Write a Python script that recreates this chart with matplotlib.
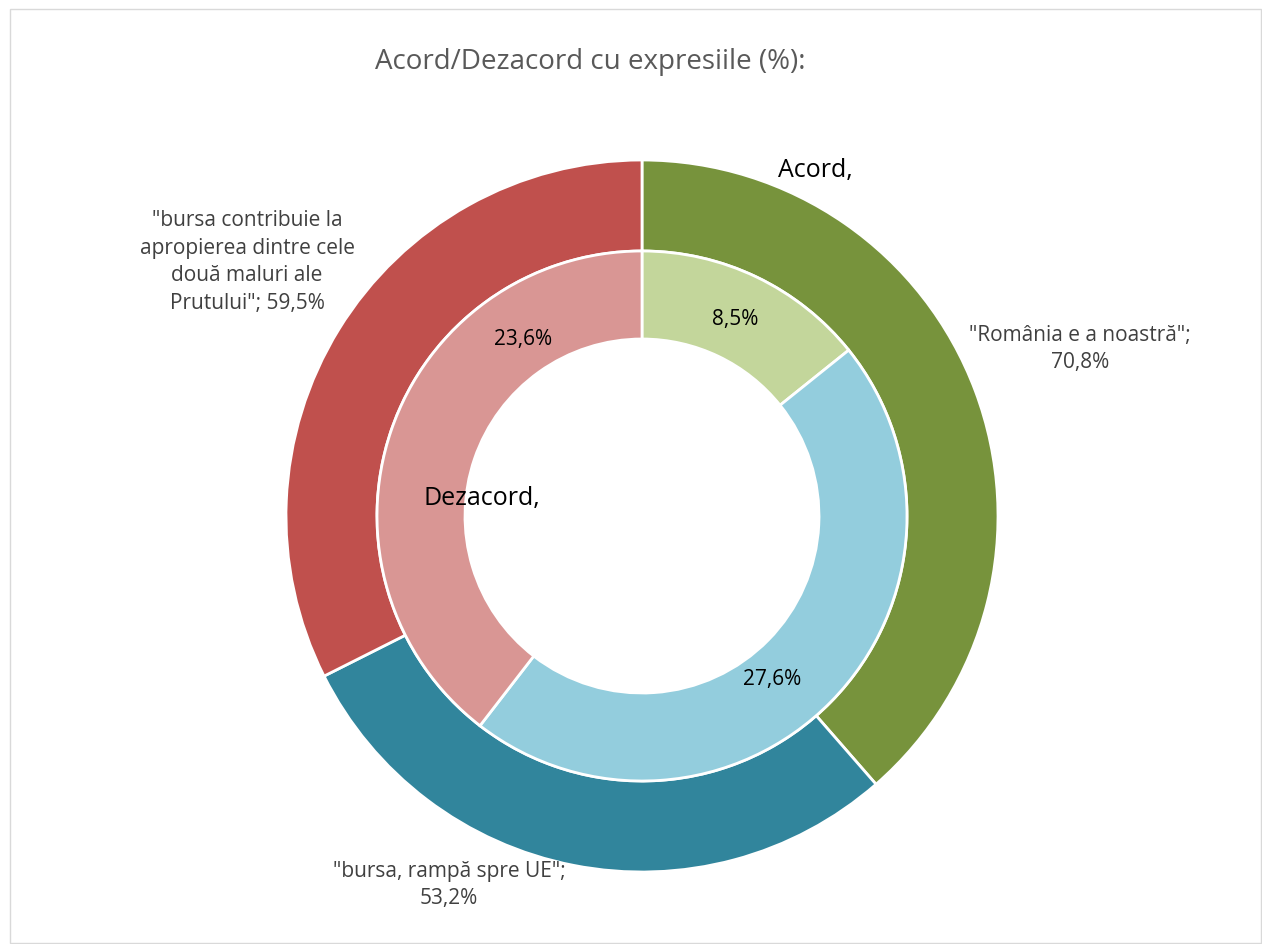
import matplotlib
matplotlib.use('Agg')
import matplotlib.pyplot as plt
from matplotlib.patches import Rectangle

plt.rcParams['font.family'] = ['Open Sans', 'DejaVu Sans']

# data
expresii = ['"România e a noastră"', '"bursa, rampă spre UE"',
            '"bursa contribuie la\napropierea dintre cele\ndouă maluri ale\nPrutului"']
acord = [70.8, 53.2, 59.5]
dezacord = [8.5, 27.6, 23.6]

culori_acord = ['#77933C', '#31859C', '#C0504D']
culori_dezacord = ['#C3D69B', '#93CDDD', '#D99694']

W, H = 1262, 945
fig = plt.figure(figsize=(W / 100, H / 100), dpi=100)
ax = fig.add_axes([0, 0, 1, 1])

# y axis runs downward (pixel-like), so startangle=-90 points up and
# counterclock=True shows clockwise
cx, cy = 642, 517
wp = dict(edgecolor='white', linewidth=2)
ax.pie(acord, colors=culori_acord, startangle=-90, counterclock=True,
       radius=356, center=(cx, cy), wedgeprops=dict(width=91, **wp), frame=True)
ax.pie(dezacord, colors=culori_dezacord, startangle=-90, counterclock=True,
       radius=265, center=(cx, cy), wedgeprops=dict(width=88, **wp), frame=True)
ax.set_xlim(0, W)
ax.set_ylim(H, 0)
ax.set_aspect('equal')
ax.axis('off')

ax.add_patch(Rectangle((10, 10), W - 11, H - 11, fill=False, edgecolor='#D9D9D9', linewidth=1))

fmt = lambda v: ('%.1f%%' % v).replace('.', ',')
gray = '#404040'
ax.text(1080, 349, expresii[0] + ';\n' + fmt(acord[0]), ha='center', va='center',
        fontsize=15, color=gray, linespacing=1.42)
ax.text(449, 885, expresii[1] + ';\n' + fmt(acord[1]), ha='center', va='center',
        fontsize=15, color=gray, linespacing=1.42)
ax.text(247, 262, expresii[2] + '; ' + fmt(acord[2]), ha='center', va='center',
        fontsize=15, color=gray, linespacing=1.42)

ax.text(735, 320, fmt(dezacord[0]), ha='center', va='center', fontsize=15, color='black')
ax.text(772, 679, fmt(dezacord[1]), ha='center', va='center', fontsize=15, color='black')
ax.text(523, 339, fmt(dezacord[2]), ha='center', va='center', fontsize=15, color='black')

ax.text(815, 170, 'Acord,', ha='center', va='center', fontsize=18, color='black')
ax.text(482, 498, 'Dezacord,', ha='center', va='center', fontsize=18, color='black')

ax.text(590, 62, 'Acord/Dezacord cu expresiile (%):', ha='center', va='center',
        fontsize=20, color='#595959')

fig.savefig('out.png', dpi=100)
